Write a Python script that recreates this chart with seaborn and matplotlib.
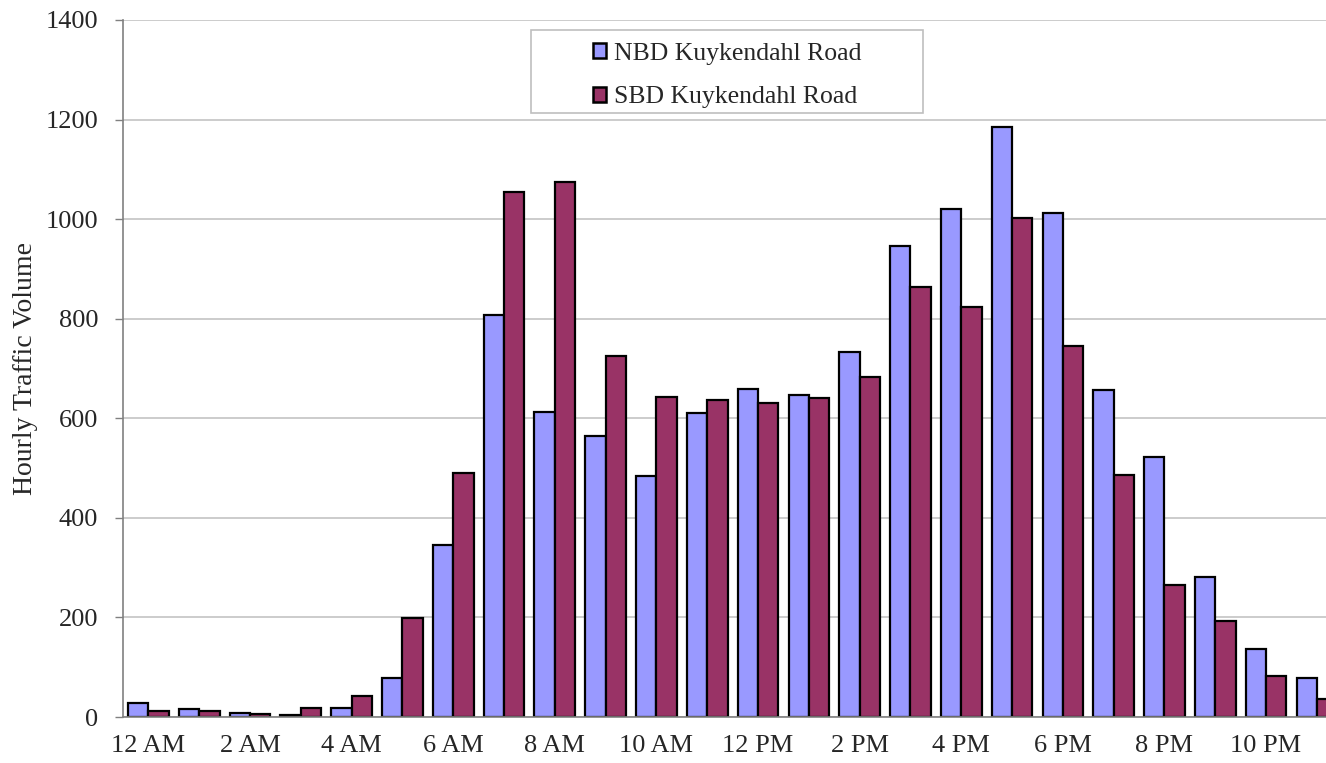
import matplotlib.pyplot as plt
import matplotlib.patches as mpatches
import pandas as pd
import seaborn as sns

hours = [
    "12 AM", "1 AM", "2 AM", "3 AM", "4 AM", "5 AM", "6 AM", "7 AM",
    "8 AM", "9 AM", "10 AM", "11 AM", "12 PM", "1 PM", "2 PM", "3 PM",
    "4 PM", "5 PM", "6 PM", "7 PM", "8 PM", "9 PM", "10 PM", "11 PM",
]
nbd = [29, 17, 9, 4, 19, 78, 345, 807, 613, 565, 485, 610,
       659, 646, 733, 946, 1020, 1186, 1013, 657, 522, 281, 137, 79]
sbd = [12, 12, 7, 19, 43, 198, 490, 1055, 1074, 725, 643, 637,
       630, 640, 682, 864, 823, 1003, 745, 487, 266, 193, 83, 37]
series_names = ["NBD Kuykendahl Road", "SBD Kuykendahl Road"]
colors = ["#9999FF", "#993366"]

df = pd.DataFrame({
    "hour": hours * 2,
    "volume": nbd + sbd,
    "direction": [series_names[0]] * len(hours) + [series_names[1]] * len(hours),
})

sns.set_style("white")
plt.rcParams["font.family"] = ["Liberation Serif", "DejaVu Serif"]

W, H = 1326, 763
fig = plt.figure(figsize=(W / 100, H / 100), dpi=100)
ax = fig.add_axes([123 / W, 46 / H, (W - 123) / W, (717 - 20) / H])

sns.barplot(
    data=df, x="hour", y="volume", hue="direction", order=hours,
    hue_order=series_names, palette=colors, edgecolor="black",
    linewidth=1.6, width=0.8, saturation=1, ax=ax, legend=False,
)

ax.set_yticks(range(0, 1401, 200))
ax.yaxis.grid(True, color="#BFBFBF", linewidth=1.1)
ax.set_axisbelow(True)

major = list(range(0, 24, 2))
ax.set_xticks(major)
ax.set_xticklabels([hours[i] for i in major])
ax.set_xticks([i - 0.5 for i in range(25)], minor=True)
# limits after the ticks, otherwise set_xticks widens the view
ax.set_xlim(-0.5, 23.18)
ax.set_ylim(0, 1400)
ax.tick_params(axis="x", which="major", length=0, pad=13, labelsize=19)
ax.tick_params(axis="x", which="minor", length=5, color="#808080", width=1, direction="out")
ax.tick_params(axis="y", length=6, color="#808080", width=1, direction="out", pad=12, labelsize=19, left=True)

for side in ["top", "right"]:
    ax.spines[side].set_visible(False)
for side in ["left", "bottom"]:
    ax.spines[side].set_color("#808080")
    ax.spines[side].set_linewidth(1.2)

ax.set_xlabel("")
ax.set_ylabel("Hourly Traffic Volume", fontsize=20)
ax.yaxis.set_label_coords(-0.071, 0.5)

# legend box
box = mpatches.Rectangle((531 / W, 1 - 113 / H), (923 - 531) / W, (113 - 30) / H,
                         transform=fig.transFigure, facecolor="white",
                         edgecolor="#BFBFBF", linewidth=1.2, zorder=5)
fig.patches.append(box)
handles = [mpatches.Patch(facecolor=c, edgecolor="black", linewidth=1.8) for c in colors]
leg = fig.legend(handles, series_names, loc="center",
                 bbox_to_anchor=((531 + 923) / 2 / W, 1 - ((30 + 113) / 2 + 4) / H),
                 frameon=False, fontsize=18.5, handlelength=0.5, handleheight=0.5,
                 handletextpad=0.3, labelspacing=0.85)
leg.set_zorder(6)

fig.savefig("out.png", dpi=100)
